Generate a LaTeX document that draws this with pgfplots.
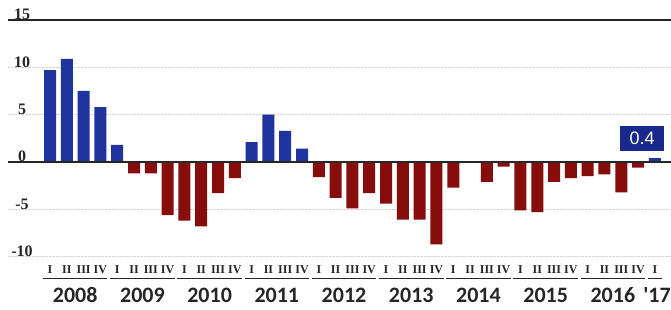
\documentclass[border=0pt]{standalone}
\usepackage{pgfplots}
\pgfplotsset{compat=1.18}
\usepackage{fontspec}
\setmainfont{Liberation Serif}
\newfontfamily\yearfont{Carlito}
\newfontfamily\boxfont{Liberation Sans}
\definecolor{barblue}{RGB}{32,52,160}
\definecolor{barred}{RGB}{135,12,12}
\definecolor{boxblue}{RGB}{25,40,140}
\begin{document}
\begin{tikzpicture}[x=1pt,y=1pt,
  yearlab/.style={anchor=base, font=\yearfont\bfseries\fontsize{22}{22}\selectfont, text=black!85},
  uline/.style={line width=1.3pt, black!85}]
\path[use as bounding box] (0,0) rectangle (671,310);
\begin{axis}[
  at={(8pt,48.6pt)}, anchor=south west,
  scale only axis, width=663pt, height=241.4pt,
  xmin=-2.5, xmax=36.96, ymin=-10.5, ymax=15,
  clip=false,
  axis line style={draw=none},
  major tick length=0pt,
  ytick={-10,-5,0,5,10,15},
  ymajorgrids,
  grid style={gray!35, densely dotted},
  /pgf/number format/assume math mode=true,
  yticklabel style={anchor=south, xshift=14pt, yshift=-3.5pt, font=\bfseries\fontsize{16}{16}\selectfont, text=black!85},
  xtick={0,...,36},
  xticklabels={I,II,III,IV,I,II,III,IV,I,II,III,IV,I,II,III,IV,I,II,III,IV,I,II,III,IV,I,II,III,IV,I,II,III,IV,I,II,III,IV,I},
  xticklabel style={font=\bfseries\fontsize{12}{12}\selectfont, yshift=-0.5pt, text=black!85},
]
\addplot[ybar, bar width=12pt, bar shift=0pt, fill=barblue, draw=none] coordinates {
(0,9.7) (1,10.9) (2,7.5) (3,5.8) (4,1.8)
(12,2.1) (13,5.0) (14,3.3) (15,1.4) (36,0.4)};
\addplot[ybar, bar width=12pt, bar shift=0pt, fill=barred, draw=none] coordinates {
(5,-1.2) (6,-1.2) (7,-5.6) (8,-6.2) (9,-6.8) (10,-3.3) (11,-1.7)
(16,-1.6) (17,-3.8) (18,-4.9) (19,-3.3)
(20,-4.4) (21,-6.1) (22,-6.1) (23,-8.7)
(24,-2.7) (25,0) (26,-2.1) (27,-0.5)
(28,-5.1) (29,-5.3) (30,-2.1) (31,-1.7)
(32,-1.5) (33,-1.3) (34,-3.2) (35,-0.6)};
\draw[line width=1.2pt, black!85] (axis cs:-2.5,0) -- (axis cs:36.96,0);
\draw[line width=1.2pt, black!85] (axis cs:-2.5,15) -- (axis cs:36.96,15);
\draw[uline] (axis cs:-0.42,-12.3) -- (axis cs:3.42,-12.3);
\draw[uline] (axis cs:3.58,-12.3) -- (axis cs:7.42,-12.3);
\draw[uline] (axis cs:7.58,-12.3) -- (axis cs:11.42,-12.3);
\draw[uline] (axis cs:11.58,-12.3) -- (axis cs:15.42,-12.3);
\draw[uline] (axis cs:15.58,-12.3) -- (axis cs:19.42,-12.3);
\draw[uline] (axis cs:19.58,-12.3) -- (axis cs:23.42,-12.3);
\draw[uline] (axis cs:23.58,-12.3) -- (axis cs:27.42,-12.3);
\draw[uline] (axis cs:27.58,-12.3) -- (axis cs:31.42,-12.3);
\draw[uline] (axis cs:31.58,-12.3) -- (axis cs:35.42,-12.3);
\draw[uline] (axis cs:35.58,-12.3) -- (axis cs:36.42,-12.3);
\node[yearlab] at (axis cs:1.5,-14.8) {2008};
\node[yearlab] at (axis cs:5.5,-14.8) {2009};
\node[yearlab] at (axis cs:9.5,-14.8) {2010};
\node[yearlab] at (axis cs:13.5,-14.8) {2011};
\node[yearlab] at (axis cs:17.5,-14.8) {2012};
\node[yearlab] at (axis cs:21.5,-14.8) {2013};
\node[yearlab] at (axis cs:25.5,-14.8) {2014};
\node[yearlab] at (axis cs:29.5,-14.8) {2015};
\node[yearlab] at (axis cs:33.5,-14.8) {2016};
\node[yearlab, anchor=base east, inner sep=0pt] at (axis cs:36.96,-14.8) {'17};
\node[fill=boxblue, text=white, font=\boxfont\fontsize{18}{18}\selectfont, minimum width=44pt, minimum height=25pt, inner sep=2pt] at (axis cs:35.24,2.53) {0.4};
\end{axis}
\end{tikzpicture}
\end{document}
